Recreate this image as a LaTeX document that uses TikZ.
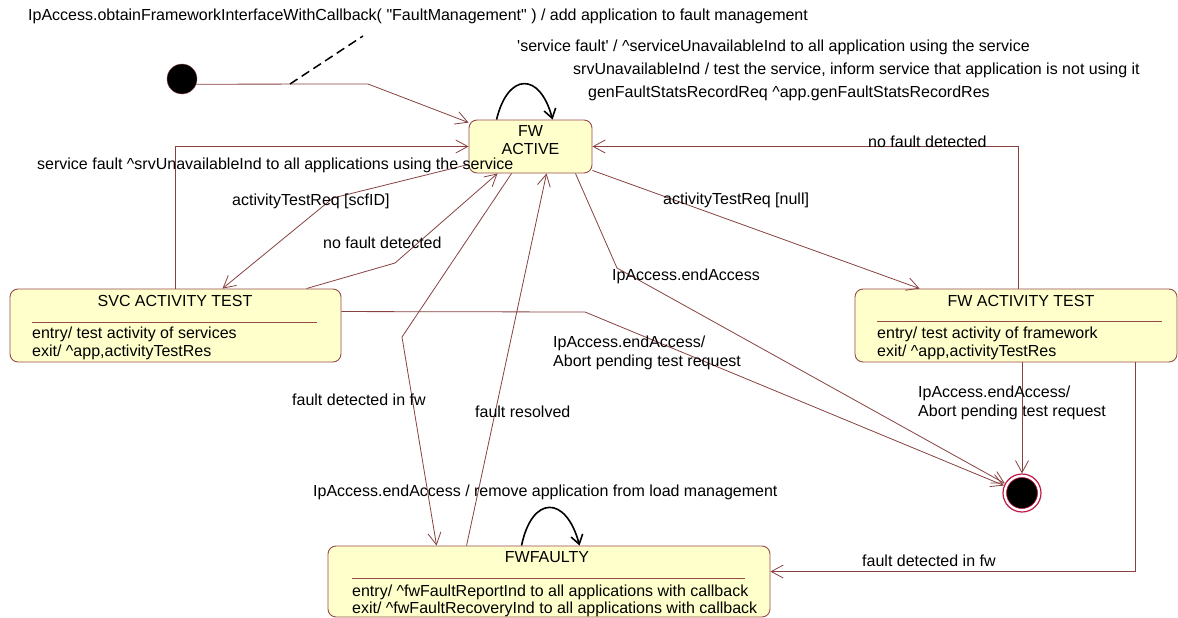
\documentclass[tikz,border=0pt]{standalone}
\usepackage{fontspec}
\setmainfont{Liberation Sans}
\usepackage{tikz}
\usetikzlibrary{calc,arrows.meta}
\definecolor{transline}{RGB}{135, 65, 65}
\definecolor{statefill}{RGB}{255, 255, 204}
\definecolor{stateborder}{RGB}{150, 75, 75}
\definecolor{endring}{RGB}{190, 25, 70}

\begin{document}
\begin{tikzpicture}[x=1pt, y=-1pt,
    every node/.style={font=\fontsize{16}{18}\selectfont, inner sep=0pt},
    state/.style={draw=stateborder, fill=statefill, rounded corners=8pt, line width=0.9pt},
    trans/.style={draw=transline, line width=0.8pt, -{Straight Barb[length=12pt, width=13pt]}},
    selfloop/.style={draw=black, line width=1.6pt, -{Straight Barb[length=9pt, width=12pt]}},
    lbl/.style={anchor=west, text=black}]
    \useasboundingbox (0,0) rectangle (1178,618);

    % States
    \node[circle, fill=black, draw=stateborder, minimum size=30pt] (init) at (182,79) {};
    \node[state, minimum width=123pt, minimum height=53pt] (active) at (530.5,146.5) {};
    \node[align=center] (activename) at (530.5,140) {FW\\ACTIVE};

    \node[state, minimum width=331pt, minimum height=73pt] (svc) at (175.5,325.5) {};
    \node (svcname) at (175,301) {SVC ACTIVITY TEST};
    \draw[stateborder] ($(svc.north west)+(22,34)$) -- ($(svc.north east)+(-24,34)$);
    \node[lbl, align=left] (svcbody) at (32,343) {entry/ test activity of services\\exit/ \textasciicircum app,activityTestRes};

    \node[state, minimum width=322pt, minimum height=73pt] (fwtest) at (1016,325.5) {};
    \node (fwtestname) at (1021,301) {FW ACTIVITY TEST};
    \draw[stateborder] ($(fwtest.north west)+(22,33)$) -- ($(fwtest.north east)+(-15,33)$);
    \node[lbl, align=left] (fwtestbody) at (877,343) {entry/ test activity of framework\\exit/ \textasciicircum app,activityTestRes};

    \node[state, minimum width=442pt, minimum height=71pt] (faulty) at (549,581.5) {};
    \node (faultyname) at (547,557) {FWFAULTY};
    \draw[stateborder] ($(faulty.north west)+(24,33)$) -- ($(faulty.north east)+(-25,33)$);
    \node[lbl, align=left, font=\fontsize{16}{16.5}\selectfont] (faultybody) at (352,601) {entry/ \textasciicircum fwFaultReportInd to all applications with callback\\exit/ \textasciicircum fwFaultRecoveryInd to all applications with callback};

    \node[circle, draw=endring, line width=1.2pt, fill=white, minimum size=38pt] (final) at (1022,493) {};
    \filldraw[fill=black, draw=endring, line width=0.6pt] (final.center) circle (15.5pt);

    % Initial transition and its note
    \draw[trans] (init.-20) -- (368,84) -- ($(active.north west)+(0,3)$);
    \coordinate (dashlo) at (290,84);
    \coordinate (dashhi) at (363,36);
    \draw[black, line width=1.5pt, dash pattern=on 9pt off 5pt] (dashlo) -- (dashhi);

    % Transitions
    \draw[trans] (svc.north) |- (active.west);
    \draw[trans] ($(active.south west)+(0,-9)$) -- (333,198) -- ($(svc.north)+(47,0)$);
    \draw[trans] ($(svc.north east)+(-35,0)$) -- (395,263) -- ($(active.south west)+(29,0)$);
    \draw[trans] ($(active.south west)+(43,0)$) -- (402,337) -- ($(faulty.north west)+(109,0)$);
    \draw[trans] ($(faulty.north west)+(139,0)$) -- ($(active.south west)+(78,0)$);
    \draw[trans] ($(active.south east)+(-17,0)$) -- (617,268) -- (final);
    \draw[trans] ($(svc.north east)+(0,23)$) -- (585,312) -- (final);
    \draw[trans] ($(active.south east)+(0,-3)$) -- ($(fwtest.north west)+(65,0)$);
    \draw[trans] ($(fwtest.north west)+(164,0)$) |- (active.east);
    \draw[trans] (final |- fwtest.south) -- (final);
    \draw[trans] ($(fwtest.south west)+(281,0)$) |- ($(faulty.north east)+(0,26)$);

    % Self transitions
    \draw[selfloop] ($(active.north west)+(28,0)$) .. controls (508,72) and (540,72) .. ($(active.north west)+(84,0)$);
    \draw[selfloop] ($(faulty.north west)+(194,0)$) .. controls (532,495) and (566,495) .. ($(faulty.north west)+(252,0)$);

    % Labels
    \node[lbl] (titlelbl) at (28,16) {IpAccess.obtainFrameworkInterfaceWithCallback( \textquotedbl FaultManagement\textquotedbl{} ) / add application to fault management};
    \node[lbl] (loopa) at (517,47) {\textquotesingle service fault\textquotesingle{} / \textasciicircum serviceUnavailableInd to all application using the service};
    \node[lbl] (loopb) at (573,70) {srvUnavailableInd / test the service, inform service that application is not using it};
    \node[lbl] (loopc) at (588,93) {genFaultStatsRecordReq \textasciicircum app.genFaultStatsRecordRes};
    \node[lbl] (svcfault) at (37,165) {service fault \textasciicircum srvUnavailableInd to all applications using the service};
    \node[lbl] (scfreq) at (232,201) {activityTestReq [scfID]};
    \node[lbl] (okleft) at (323,243) {no fault detected};
    \node[lbl] (nullreq) at (663,200) {activityTestReq [null]};
    \node[lbl] (okright) at (868,142) {no fault detected};
    \node[lbl] (endacc) at (612,276) {IpAccess.endAccess};
    \node[lbl, align=left, font=\fontsize{16}{19}\selectfont] (abortl) at (553,353) {IpAccess.endAccess/\\Abort pending test request};
    \node[lbl, align=left, font=\fontsize{16}{19}\selectfont] (abortr) at (918,403) {IpAccess.endAccess/\\Abort pending test request};
    \node[lbl] (fwfault) at (292,400) {fault detected in fw};
    \node[lbl] (resolved) at (475,412) {fault resolved};
    \node[lbl] (removeapp) at (313,492) {IpAccess.endAccess / remove application from load management};
    \node[lbl] (fwfaultb) at (862,561) {fault detected in fw};
\end{tikzpicture}
\end{document}
